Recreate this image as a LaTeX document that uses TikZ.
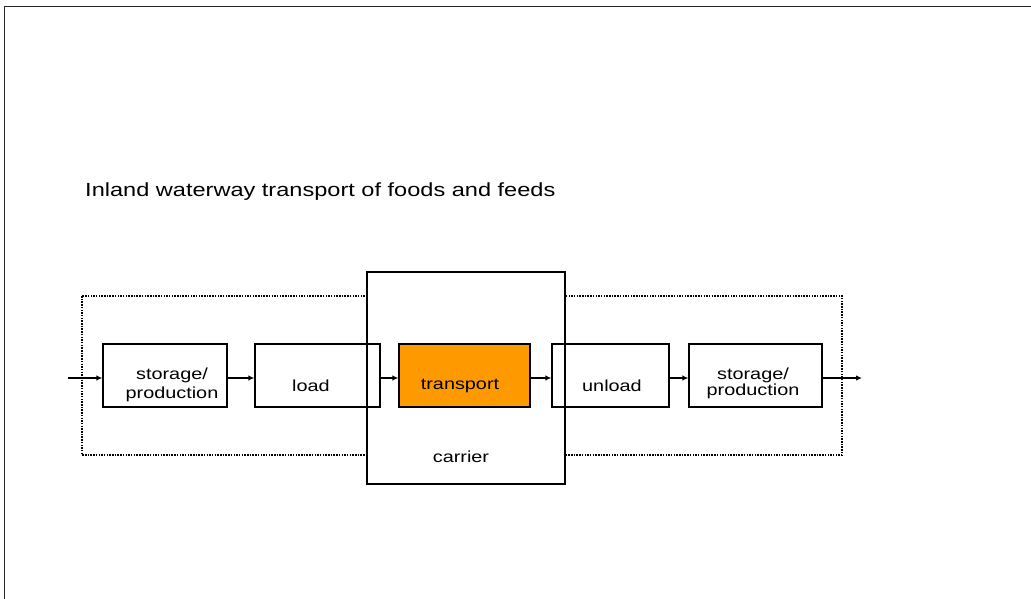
\documentclass[tikz,border=0pt]{standalone}
\usepackage{fontspec}
\setmainfont{Liberation Sans}[FakeStretch=1.24]
\usetikzlibrary{arrows.meta}
\definecolor{orng}{RGB}{255,153,0}
\begin{document}
\begin{tikzpicture}[x=1pt,y=-1pt,
  box/.style={draw=black,line width=1.2pt,minimum width=#1,minimum height=63pt,inner sep=0pt},
  conn/.style={line width=1.6pt,-{Latex[length=6pt,width=5.5pt]}},
  txt/.style={inner sep=0pt,font=\fontsize{16}{18}\selectfont}]
\useasboundingbox (0,0) rectangle (1031,599);
\draw[line width=1.6pt,draw=black!85] (4.5,599) -- (4.5,6.5) -- (1031,6.5);
\node[inner sep=0pt,anchor=west,font=\fontsize{19}{21}\selectfont] (title) at (85,192) {Inland waterway transport of foods and feeds};
\draw[line width=1.8pt,dash pattern=on 1.5pt off 1.2pt] (82,296) rectangle (842,455);
\node[draw,fill=white,line width=1.2pt,minimum width=198pt,minimum height=212pt,inner sep=0pt] (carrier) at (466,378) {};
\node[txt] (carriertxt) at (461,457) {carrier};
\node[box=124pt] (s1) at (165,375.5) {};
\node[txt,align=center] (s1t) at (172,385) {storage/\\[1pt]production};
\node[box=125pt] (load) at (317.5,375.5) {};
\node[txt] (loadt) at (311,386) {load};
\node[box=131pt,fill=orng] (tr) at (464.5,375.5) {};
\node[txt] (trt) at (460,386) {transport};
\node[box=117pt] (un) at (610.5,375.5) {};
\node[txt] (unt) at (612,386) {unload};
\node[box=133pt] (s2) at (755.5,375.5) {};
\node[txt,align=center] (s2t) at (753,383) {storage/\\[-2pt]production};
\coordinate (in) at (68,378);
\coordinate (out) at (862,378);
\draw[conn] (in) -- (in -| s1.west);
\draw[conn] (s1.east |- in) -- (load.west |- in);
\draw[conn] (load.east |- in) -- (tr.west |- in);
\draw[conn] (tr.east |- in) -- (un.west |- in);
\draw[conn] (un.east |- in) -- (s2.west |- in);
\draw[conn] (s2.east |- in) -- (out);
\end{tikzpicture}
\end{document}
